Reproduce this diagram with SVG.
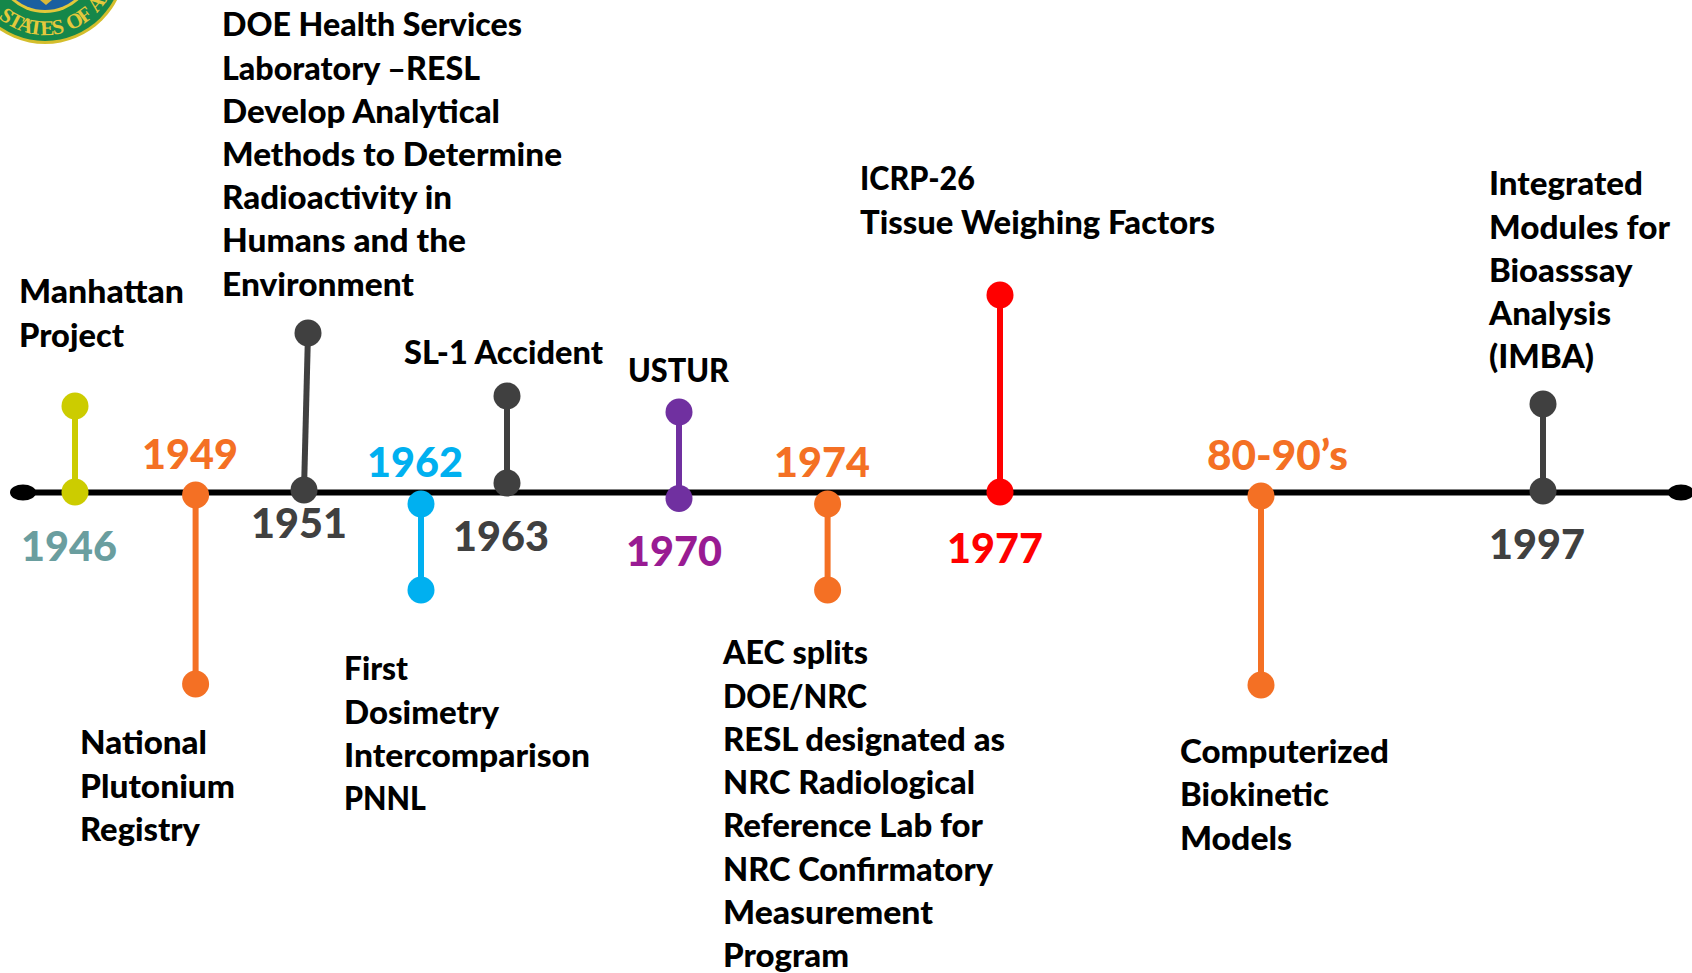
<svg xmlns="http://www.w3.org/2000/svg" width="1692" height="973" viewBox="0 0 1692 973">
<defs><path id="sealArc" d="M-27 -37 A 72 72 0 0 0 117 -37"/></defs>
<style>
text{font-family:Lato,"Liberation Sans",sans-serif;font-weight:900}
.l{font-size:32px;fill:#000}
.y{font-size:41px}
.o{fill:#F47024}.d{fill:#404040}.b{fill:#00B0F0}.p{fill:#7030A0}.r{fill:#FF0000}.g{fill:#CCCC00}
.c{stroke-width:6;fill:none}
</style>
<rect width="1692" height="973" fill="#fff"/>
<g id="seal">
<circle cx="45" cy="-37" r="81" fill="#D4BE2C"/>
<circle cx="45" cy="-37" r="78" fill="#15874A"/>
<circle cx="45" cy="-37" r="50" fill="#E2C83A"/>
<circle cx="45" cy="-37" r="47" fill="#1A5FA0"/>
<polygon points="40,0 52,0 46,5" fill="#D9B93A"/>
<text font-size="21" letter-spacing="-1.3" word-spacing="3" fill="#E4C93C" style="font-family:'Liberation Serif',serif;font-weight:700"><textPath href="#sealArc" startOffset="62">STATES OF AM</textPath></text>
</g>
<g id="connectors">
<line x1="23" y1="492.5" x2="1680" y2="492.5" stroke="#000" stroke-width="6"/>
<ellipse cx="23" cy="492.5" rx="13" ry="8"/>
<ellipse cx="1681" cy="492.5" rx="13" ry="8"/>
<line class="c" stroke="#CCCC00" x1="75" y1="406" x2="75" y2="492"/>
<line class="c" stroke="#F47024" x1="195.6" y1="495" x2="195.6" y2="684"/>
<line class="c" stroke="#404040" x1="304" y1="490" x2="308" y2="333"/>
<line class="c" stroke="#00B0F0" x1="421" y1="504" x2="421" y2="590"/>
<line class="c" stroke="#404040" x1="507" y1="396" x2="507" y2="483"/>
<line class="c" stroke="#7030A0" x1="679" y1="412" x2="679" y2="498.500"/>
<line class="c" stroke="#F47024" x1="827.600" y1="504" x2="827.600" y2="590"/>
<line class="c" stroke="#FF0000" x1="1000" y1="295" x2="1000" y2="492"/>
<line class="c" stroke="#F47024" x1="1261" y1="496" x2="1261" y2="685"/>
<line class="c" stroke="#404040" x1="1543" y1="404" x2="1543" y2="491"/>
</g>
<g id="n1946"><circle class="g" cx="75" cy="406" r="13.500"/><circle class="g" cx="75" cy="492" r="13.500"/>
<text class="y" x="21" y="561" fill="#6A9E9F" textLength="96" lengthAdjust="spacingAndGlyphs">1946</text>
<text class="l" x="19" y="303" textLength="165" lengthAdjust="spacingAndGlyphs">Manhattan</text><text class="l" x="19" y="347" textLength="105" lengthAdjust="spacingAndGlyphs">Project</text></g>
<g id="n1949"><circle class="o" cx="195.600" cy="495" r="13.500"/><circle class="o" cx="195.600" cy="684" r="13.500"/>
<text class="y o" x="142" y="469" textLength="96" lengthAdjust="spacingAndGlyphs">1949</text>
<text class="l" x="80" y="754" textLength="127" lengthAdjust="spacingAndGlyphs">National</text><text class="l" x="80" y="798" textLength="155" lengthAdjust="spacingAndGlyphs">Plutonium</text><text class="l" x="80" y="841" textLength="120" lengthAdjust="spacingAndGlyphs">Registry</text></g>
<g id="n1951"><circle class="d" cx="304" cy="490" r="13.500"/><circle class="d" cx="308" cy="333" r="13.500"/>
<text class="y d" x="251" y="538" textLength="96" lengthAdjust="spacingAndGlyphs">1951</text>
<text class="l" x="222" y="36" textLength="300" lengthAdjust="spacingAndGlyphs">DOE Health Services</text><text class="l" x="222" y="80" textLength="258" lengthAdjust="spacingAndGlyphs">Laboratory –RESL</text><text class="l" x="222" y="123" textLength="278" lengthAdjust="spacingAndGlyphs">Develop Analytical</text><text class="l" x="222" y="166" textLength="340" lengthAdjust="spacingAndGlyphs">Methods to Determine</text><text class="l" x="222" y="209" textLength="230" lengthAdjust="spacingAndGlyphs">Radioactivity in</text><text class="l" x="222" y="252" textLength="244" lengthAdjust="spacingAndGlyphs">Humans and the</text><text class="l" x="222" y="296" textLength="192" lengthAdjust="spacingAndGlyphs">Environment</text></g>
<g id="n1962"><circle class="b" cx="421" cy="504" r="13.500"/><circle class="b" cx="421" cy="590" r="13.500"/>
<text class="y b" x="367" y="477" textLength="96" lengthAdjust="spacingAndGlyphs">1962</text>
<text class="l" x="344" y="680" textLength="64" lengthAdjust="spacingAndGlyphs">First</text><text class="l" x="344" y="724" textLength="155" lengthAdjust="spacingAndGlyphs">Dosimetry</text><text class="l" x="344" y="767" textLength="246" lengthAdjust="spacingAndGlyphs">Intercomparison</text><text class="l" x="344" y="810" textLength="82" lengthAdjust="spacingAndGlyphs">PNNL</text></g>
<g id="n1963"><circle class="d" cx="507" cy="396" r="13.500"/><circle class="d" cx="507" cy="483" r="13.500"/>
<text class="y d" x="453" y="551" textLength="96" lengthAdjust="spacingAndGlyphs">1963</text>
<text class="l" x="404" y="364" textLength="199" lengthAdjust="spacingAndGlyphs">SL-1 Accident</text></g>
<g id="n1970"><circle class="p" cx="679" cy="412" r="13.500"/><circle class="p" cx="679" cy="498.500" r="13.500"/>
<text class="y" x="626" y="566" fill="#991B93" textLength="96" lengthAdjust="spacingAndGlyphs">1970</text>
<text class="l" x="628" y="382" textLength="101" lengthAdjust="spacingAndGlyphs">USTUR</text></g>
<g id="n1974"><circle class="o" cx="827.600" cy="504" r="13.500"/><circle class="o" cx="827.600" cy="590" r="13.500"/>
<text class="y o" x="774" y="477" textLength="96" lengthAdjust="spacingAndGlyphs">1974</text>
<text class="l" x="723" y="664" textLength="145" lengthAdjust="spacingAndGlyphs">AEC splits</text><text class="l" x="723" y="708" textLength="144" lengthAdjust="spacingAndGlyphs">DOE/NRC</text><text class="l" x="723" y="751" textLength="282" lengthAdjust="spacingAndGlyphs">RESL designated as</text><text class="l" x="723" y="794" textLength="252" lengthAdjust="spacingAndGlyphs">NRC Radiological</text><text class="l" x="723" y="837" textLength="260" lengthAdjust="spacingAndGlyphs">Reference Lab for</text><text class="l" x="723" y="881" textLength="270" lengthAdjust="spacingAndGlyphs">NRC Confirmatory</text><text class="l" x="723" y="924" textLength="210" lengthAdjust="spacingAndGlyphs">Measurement</text><text class="l" x="723" y="967" textLength="126" lengthAdjust="spacingAndGlyphs">Program</text></g>
<g id="n1977"><circle class="r" cx="1000" cy="295" r="13.500"/><circle class="r" cx="1000" cy="492" r="13.500"/>
<text class="y r" x="947" y="563" textLength="96" lengthAdjust="spacingAndGlyphs">1977</text>
<text class="l" x="860" y="190" textLength="115" lengthAdjust="spacingAndGlyphs">ICRP-26</text><text class="l" x="860" y="234" textLength="355" lengthAdjust="spacingAndGlyphs">Tissue Weighing Factors</text></g>
<g id="n8090"><circle class="o" cx="1261" cy="496" r="13.500"/><circle class="o" cx="1261" cy="685" r="13.500"/>
<text class="y o" x="1207" y="470" textLength="141" lengthAdjust="spacingAndGlyphs">80-90’s</text>
<text class="l" x="1180" y="763" textLength="209" lengthAdjust="spacingAndGlyphs">Computerized</text><text class="l" x="1180" y="806" textLength="149" lengthAdjust="spacingAndGlyphs">Biokinetic</text><text class="l" x="1180" y="850" textLength="112" lengthAdjust="spacingAndGlyphs">Models</text></g>
<g id="n1997"><circle class="d" cx="1543" cy="404" r="13.500"/><circle class="d" cx="1543" cy="491" r="13.500"/>
<text class="y d" x="1489" y="559" textLength="96" lengthAdjust="spacingAndGlyphs">1997</text>
<text class="l" x="1489" y="195" textLength="154" lengthAdjust="spacingAndGlyphs">Integrated</text><text class="l" x="1489" y="239" textLength="181" lengthAdjust="spacingAndGlyphs">Modules for</text><text class="l" x="1489" y="282" textLength="143.500" lengthAdjust="spacingAndGlyphs">Bioasssay</text><text class="l" x="1489" y="325" textLength="122" lengthAdjust="spacingAndGlyphs">Analysis</text><text class="l" x="1489" y="368" textLength="105" lengthAdjust="spacingAndGlyphs">(IMBA)</text></g>
</svg>
